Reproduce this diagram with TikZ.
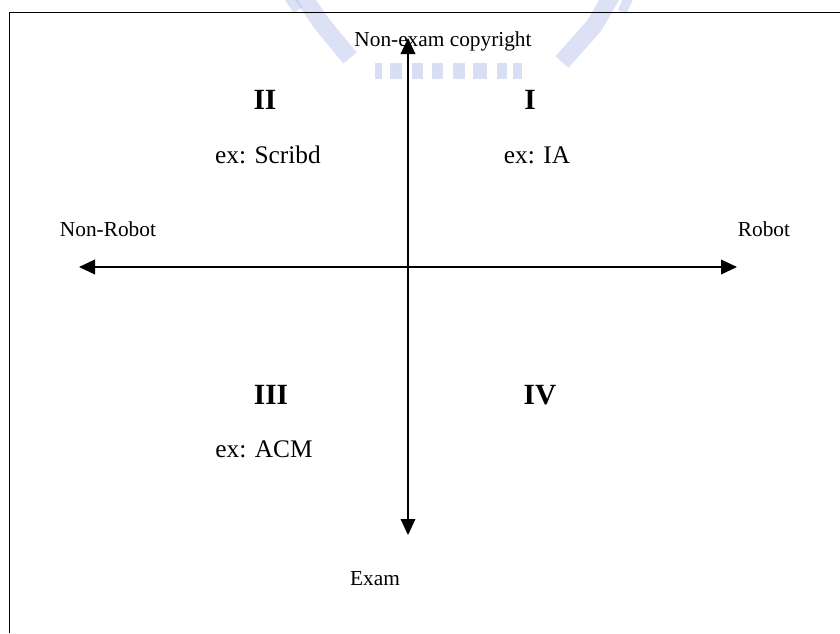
\documentclass[tikz,border=0pt]{standalone}
\usepackage{fontspec}
\setmainfont{Liberation Serif}
\usetikzlibrary{arrows.meta}
\definecolor{wm}{RGB}{170,182,230}
\begin{document}
\begin{tikzpicture}[x=0.75pt,y=-0.75pt,
  frame/.style={line width=1.1pt},
  axis/.style={line width=1pt,{Triangle[length=12pt,width=11pt]}-{Triangle[length=12pt,width=11pt]}},
  lab/.style={anchor=base,inner sep=0pt,font=\fontsize{16}{18}\selectfont},
  quad/.style={anchor=base,inner sep=0pt,font=\fontsize{22}{24}\selectfont\bfseries},
  exlab/.style={anchor=base,inner sep=0pt,font=\fontsize{19}{22}\selectfont},
  wmstroke/.style={wm,opacity=0.4,line cap=butt},
  wmblock/.style={fill=wm,opacity=0.45}]
\useasboundingbox (0,0) rectangle (840,633);
\fill[white] (0,0) rectangle (840,633);
% watermark
\draw[wmstroke,line width=13pt] (302,-5) -- (322,24) -- (350,58);
\draw[wmstroke,line width=8pt] (288,-5) -- (298,10);
\draw[wmstroke,line width=13pt] (612,-5) -- (594,26) -- (562,62);
\draw[wmstroke,line width=7pt] (630,-5) -- (622,12);
\foreach \a/\b in {375/382,390/402,412/423,432/443,453/465,473/487,497/507,513/522}
  \fill[wmblock] (\a,63) rectangle (\b,79);
% frame
\coordinate (fbl) at (9.5,633);
\coordinate (ftl) at (9.5,12.5);
\coordinate (ftr) at (840,12.5);
\draw[frame] (fbl) -- (ftl) -- (ftr);
% axes
\coordinate (ytop) at (408,38);
\coordinate (ybot) at (408,535);
\coordinate (xleft) at (79,267);
\coordinate (xright) at (737,267);
\node[lab] (nonexam) at (443,46) {Non-exam copyright};
\draw[axis] (ybot) -- (ytop);
\draw[axis] (xleft) -- (xright);
\node[lab] (nonrobot) at (108,236) {Non-Robot};
\node[lab] (robot) at (764,236) {Robot};
\node[lab] (exam) at (375,585) {Exam};
% quadrants
\node[quad] (q2) at (265,109) {II};
\node[quad] (q1) at (530,109) {I};
\node[quad] (q3) at (271,404) {III};
\node[quad] (q4) at (540,404) {IV};
\node[exlab] (ex2) at (268,163) {ex: Scribd};
\node[exlab] (ex1) at (537,163) {ex: IA};
\node[exlab] (ex3) at (264,457) {ex: ACM};
\end{tikzpicture}
\end{document}
